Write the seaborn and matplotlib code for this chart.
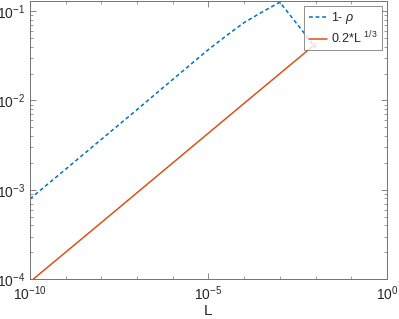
import numpy as np
import pandas as pd
import seaborn as sns
import matplotlib.pyplot as plt
from matplotlib.ticker import FixedLocator, LogLocator, NullFormatter, LogFormatterSciNotation

# Werte
L_rho = [1e-10, 1e-9, 1e-8, 1e-7, 1e-6, 1e-5, 10**-4.5, 1e-4, 10**-3.5, 1e-3, 1e-2]
one_minus_rho = [7.9e-4, 1.7e-3, 3.67e-3, 7.9e-3, 0.0172, 0.0372, 0.0531, 0.0745, 0.0977, 0.126, 0.039]

L_fit = [1e-10, 1e-8, 1e-6, 1e-4, 1e-2]
fit_vals = [9.3e-5, 4.3e-4, 2.0e-3, 9.3e-3, 0.043]

sns.set_style("ticks")
plt.rcParams["font.family"] = ["Liberation Sans", "DejaVu Sans"]
plt.rcParams["mathtext.fontset"] = "custom"
plt.rcParams["mathtext.rm"] = "Liberation Sans"
plt.rcParams["mathtext.it"] = "Liberation Sans:italic"

df_rho = pd.DataFrame({"L": L_rho, "v": one_minus_rho})
df_fit = pd.DataFrame({"L": L_fit, "v": fit_vals})

fig = plt.figure(figsize=(3.99, 3.19), dpi=100)
ax = fig.add_axes([0.075, 0.125, 0.895, 0.872])

sns.lineplot(data=df_rho, x="L", y="v", ax=ax, color="#0072BD", linewidth=1.1,
             dashes=False, label="1- $\\rho$")
ax.lines[-1].set_dashes([2.5, 1.8])
sns.lineplot(data=df_fit, x="L", y="v", ax=ax, color="#D95319", linewidth=1.1,
             label="0.2*L $^{1/3}$")

ax.set_xscale("log")
ax.set_yscale("log")
ax.set_xlim(1e-10, 1)
ax.set_ylim(1e-4, 0.13)

ax.xaxis.set_major_locator(FixedLocator([1e-10, 1e-5, 1]))
ax.xaxis.set_minor_locator(FixedLocator([10.0**k for k in range(-10, 1)]))
ax.xaxis.set_major_formatter(LogFormatterSciNotation())
ax.xaxis.set_minor_formatter(NullFormatter())
ax.yaxis.set_major_locator(FixedLocator([1e-4, 1e-3, 1e-2, 1e-1]))
ax.yaxis.set_minor_locator(LogLocator(base=10, subs=np.arange(2, 10)))
ax.yaxis.set_minor_formatter(NullFormatter())

ax.tick_params(which="both", direction="in", top=True, right=True, colors="0.45",
               labelcolor="#262626", labelsize=10)
ax.tick_params(which="major", length=4, width=0.6)
ax.tick_params(which="minor", length=2.5, width=0.5)
for s in ax.spines.values():
    s.set_color("0.45")
    s.set_linewidth(0.7)

ax.set_xlabel("L", fontsize=11, color="#262626", labelpad=1)
ax.set_ylabel("")

leg = ax.legend(loc="upper right", fontsize=9, frameon=True, fancybox=False,
                edgecolor="0.45", handlelength=1.5, handletextpad=0.3,
                borderpad=0.35, labelspacing=0.25, borderaxespad=0.4)
leg.get_frame().set_linewidth(0.7)
leg.get_lines()[0].set_dashes([2.5, 1.8])

fig.savefig("out.png", dpi=100)
